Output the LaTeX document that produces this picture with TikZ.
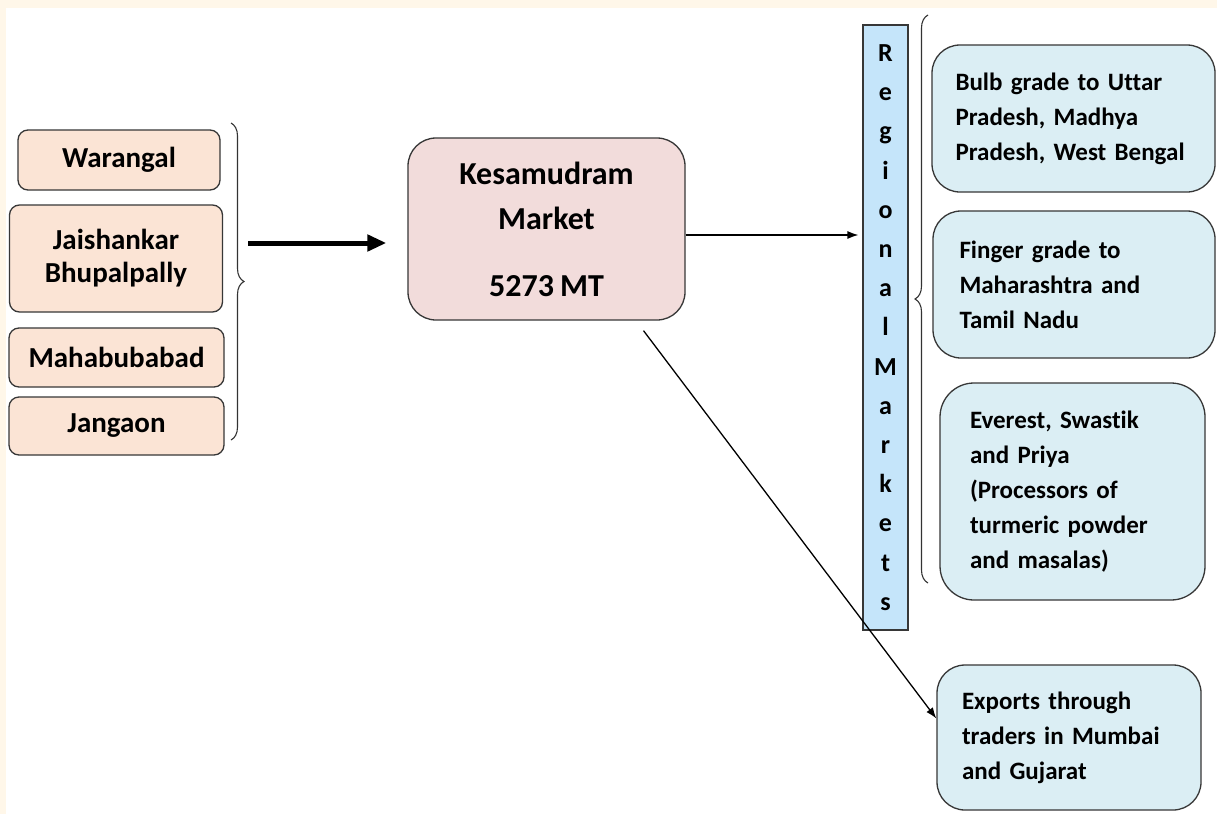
\documentclass[tikz,border=0pt]{standalone}
\usepackage{fontspec}
\setmainfont{Carlito}[Ligatures=NoCommon,WordSpace=0.85]
\usetikzlibrary{arrows.meta,positioning,decorations.pathreplacing}
\definecolor{bgcream}{RGB}{255,247,233}
\definecolor{distpeach}{RGB}{251,228,213}
\definecolor{mktpink}{RGB}{242,220,219}
\definecolor{destblue}{RGB}{219,238,244}
\definecolor{barblue}{RGB}{197,229,250}
\definecolor{edgegray}{RGB}{55,55,55}

\begin{document}
\begin{tikzpicture}[x=1pt,y=-1pt,
  dist/.style={draw=edgegray,line width=1.3pt,rounded corners=10pt,fill=distpeach,
    font=\fontsize{29}{33}\selectfont\bfseries,align=center,inner sep=0pt},
  mkt/.style={draw=edgegray,line width=1.3pt,rounded corners=28pt,fill=mktpink,
    font=\fontsize{32}{45}\selectfont\bfseries,align=center,inner sep=0pt},
  dest/.style={draw=edgegray,line width=1.3pt,rounded corners=28pt,fill=destblue,
    font=\fontsize{25}{35}\selectfont\bfseries,align=left,inner sep=0pt,
    execute at begin node={\hyphenpenalty=10000\relax}},
  bar/.style={draw=edgegray,line width=1.2pt,fill=barblue,
    font=\fontsize{26}{39.2}\selectfont\bfseries,align=center,inner sep=0pt},
  brc/.style={draw=black!80,line width=1.1pt,decorate,decoration={brace,amplitude=13pt}},
  arr/.style={-{Latex[length=11pt,width=8pt]},line width=1.3pt},
  bigarr/.style={-{Triangle[length=19pt,width=16pt]},line width=5pt}
]
  % Canvas
  \useasboundingbox (0,0) rectangle (1217,814);
  \fill[bgcream] (0,0) rectangle (1217,814);
  \fill[white] (6,8) rectangle (1217,814);
  % Districts
  \node[dist,minimum width=202pt,minimum height=60pt] (warangal) at (119,160) {Warangal};
  \node[dist,minimum width=213pt,minimum height=107pt] (jaishankar) at (116,258.5) {Jaishankar\\Bhupalpally};
  \node[dist,minimum width=215pt,minimum height=59pt] (mahabubabad) at (116.5,357.5) {Mahabubabad};
  \node[dist,minimum width=215pt,minimum height=58pt] (jangaon) at (116.5,426) {Jangaon};
  \draw[brc] (231,123) -- (231,440);
  \coordinate (distout) at (248,243);
  % Market
  \node[mkt,minimum width=277pt,minimum height=182pt] (kesa) at (546.5,229)
    {Kesamudram\\Market\\[22pt]5273 MT};
  \draw[bigarr,shorten >=21pt] (distout) -- (distout -| kesa.west);
  % Regional markets
  \node[bar,minimum width=45pt,minimum height=605pt] (regional) at (885.5,327.5)
    {R\\e\\g\\i\\o\\n\\a\\l\\M\\a\\r\\k\\e\\t\\s};
  \draw[brc] (928,583) -- (928,15);
  \node[dest,minimum width=283pt,minimum height=147pt,text width=236pt] (bulb) at (1073.5,118.5)
    {Bulb grade to Uttar\\Pradesh, Madhya\\Pradesh, West Bengal};
  \node[dest,minimum width=282pt,minimum height=147pt,text width=229pt] (finger) at (1074,284.5)
    {Finger grade to\\Maharashtra and\\Tamil Nadu};
  \node[dest,minimum width=265pt,minimum height=217pt,text width=205pt,rounded corners=34pt] (everest) at (1072.5,491.5)
    {Everest, Swastik\\and Priya\\(Processors of\\turmeric powder\\and masalas)};
  \node[dest,minimum width=264pt,minimum height=145pt,text width=214pt] (export) at (1069,737.5)
    {Exports through\\traders in Mumbai\\and Gujarat};
  % Flows
  \draw[arr,shorten >=4pt] ([yshift=-6pt]kesa.east) -- ([yshift=-6pt]kesa.east -| regional.west);
  \draw[arr] ([xshift=97pt,yshift=-10pt]kesa.south) -- ([yshift=19pt]export.west);
\end{tikzpicture}
\end{document}
